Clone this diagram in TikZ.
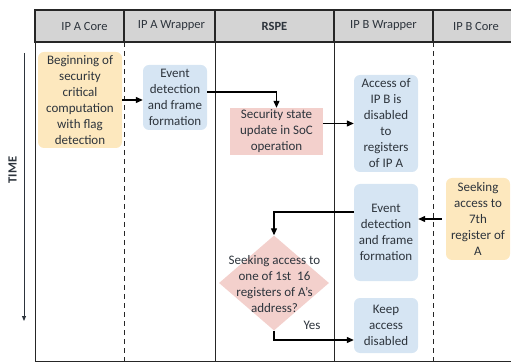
\documentclass[tikz,border=0pt]{standalone}
\usepackage{fontspec}
\setmainfont{Carlito}
\usetikzlibrary{arrows.meta,shapes.geometric}
\definecolor{hdr}{RGB}{212,212,212}
\definecolor{corefill}{RGB}{253,232,190}
\definecolor{wrapfill}{RGB}{214,229,243}
\definecolor{rspefill}{RGB}{243,208,204}
\definecolor{ink}{RGB}{45,52,60}
\begin{document}
\begin{tikzpicture}[x=1pt,y=-1pt,
  font=\fontsize{13}{16}\selectfont,
  every node/.style={text=ink},
  box/.style={rounded corners=6pt, align=center, inner sep=0pt},
  core/.style={box, fill=corefill},
  wrap/.style={box, fill=wrapfill},
  rspe/.style={align=center, inner sep=0pt, fill=rspefill},
  head/.style={font=\fontsize{12.5}{15}\selectfont},
  flow/.style={draw=black, line width=1.2pt, -{Triangle[length=7pt,width=6pt]}},
  lane/.style={draw=black!85, line width=0.8pt},
  lanedash/.style={lane, dash pattern=on 5pt off 4pt},
  hline/.style={draw=black!85, line width=1.6pt}
]
\useasboundingbox (0,0) rectangle (511,363);

% header band
\fill[hdr] (35,10) rectangle (511,42);
\draw[hline] (511,10) -- (35,10) -- (35,42) -- (511,42);
\foreach \x in {124,215,334,433} \draw[hline] (\x,10) -- (\x,42);

\node[head] (hA)  at (84.5,26)  {IP A Core};
\node[head] (hAw) at (171.5,26) {IP A Wrapper};
\node[head] (hR)  at (274.5,26) {\bfseries RSPE};
\node[head] (hBw) at (383.5,26) {IP B Wrapper};
\node[head] (hB)  at (476,26)   {IP B Core};

% swim lanes
\draw[lane] (35,42) -- (35,361) -- (511,361);
\draw[lanedash] (124,42) -- (124,361);
\draw[lane] (215,42) -- (215,361);
\draw[lane] (334,42) -- (334,361);
\draw[lanedash] (433,42) -- (433,361);

% time axis
\node[rotate=90, font=\bfseries\fontsize{12.5}{14}\selectfont] (time) at (12.5,170) {TIME};
\coordinate (t0) at (24,53);
\coordinate (t1) at (24,321);
\draw[draw=ink, line width=0.9pt, -{Triangle[length=5pt,width=4pt]}] (t0) -- (t1);

% process steps
\node[core, minimum width=84, minimum height=96] (begin) at (80,100)
  {Beginning of\\security\\critical\\computation\\with flag\\detection};
\node[wrap, minimum width=64, minimum height=65] (evA) at (175,97.5)
  {Event\\detection\\and frame\\formation};
\node[rspe, minimum width=93, minimum height=47] (upd) at (276.5,131.5)
  {Security state\\update in SoC\\operation};
\node[wrap, minimum width=64, minimum height=97] (dis) at (386,123.5)
  {Access of\\IP B is\\disabled\\to\\registers\\of IP A};
\node[core, minimum width=64, minimum height=82] (seek) at (478,219)
  {Seeking\\access to\\7th\\register of\\A};
\node[wrap, minimum width=64, minimum height=97] (evB) at (386,232.5)
  {Event\\detection\\and frame\\formation};
\node[diamond, fill=rspefill, minimum width=110, minimum height=95, inner sep=0pt] (dia) at (274,283) {};
\node[align=center, inner sep=0pt] (diatext) at (274.5,284)
  {Seeking access to\\one of 1st\ \ 16\\registers of A’s\\address?};
\node[wrap, minimum width=64, minimum height=55] (keep) at (386,325.5)
  {Keep\\access\\disabled};
\node (yes) at (312,325) {Yes};

% connectors
\draw[flow] (begin.east) -- (begin.east -| evA.west);
\draw[flow] ([yshift=5.5pt]evA.east) -| (upd.north);
\draw[flow] (upd.east |- dis.west) -- (dis.west);
\draw[flow] ([xshift=-4pt]seek.west) -- (seek.west -| evB.east);
\draw[flow] ([yshift=20.5pt]evB.west) -| (dia.north);
\draw[flow] (dia.south) |- ([yshift=-14.5pt]keep.west);
\end{tikzpicture}
\end{document}
